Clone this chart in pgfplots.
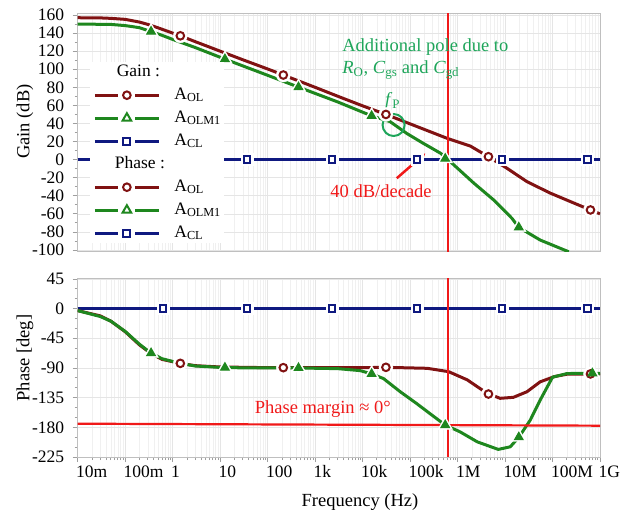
\documentclass[border=0pt]{standalone}
\usepackage{fontspec}
\setmainfont{Liberation Serif}
\usepackage{pgfplots}
\pgfplotsset{compat=1.18}
\usetikzlibrary{arrows.meta}
\definecolor{aol}{RGB}{128,18,18}
\definecolor{aolm}{RGB}{30,135,30}
\definecolor{acl}{RGB}{15,25,128}
\definecolor{ann}{RGB}{30,165,90}
\definecolor{pm}{RGB}{240,25,25}
\newcommand{\fs}{\fontsize{18.5}{22}\selectfont}
\newcommand{\ft}{\fontsize{17.5}{21}\selectfont}
\pgfplotsset{
  haloC/.style={only marks, mark=*, mark size=7pt, white, mark options={draw=white, fill=white}, forget plot},
  haloT/.style={only marks, mark=triangle*, mark size=8.5pt, white, mark options={draw=white, fill=white}, forget plot},
  haloS/.style={only marks, mark=square*, mark size=6pt, white, mark options={draw=white, fill=white}, forget plot},
}
\begin{document}
\begin{tikzpicture}
\useasboundingbox (0pt,0pt) rectangle (627pt,-514pt);
% ---------------- Gain ----------------
\begin{axis}[anchor=south west, at={(77.7pt,-251.7pt)}, height=238.4pt,
  xmode=log, xmin=1e-2, xmax=1e9, scale only axis, width=522.3pt,
  xtick={1e-2,1e-1,1,1e1,1e2,1e3,1e4,1e5,1e6,1e7,1e8,1e9},
  xmajorgrids, xminorgrids, ymajorgrids,
  major grid style={gray!20, line width=0.6pt},
  minor grid style={gray!12, line width=0.5pt},
  axis line style={gray!50, line width=0.8pt},
  tick align=outside, major tick length=5pt, minor tick length=3pt,
  tick style={gray!75, line width=0.8pt},
  ytick pos=left,
  ticklabel style={font=\ft, text=black},
  yticklabel style={xshift=-5pt},
  /pgf/number format/assume math mode=true,
  ymin=-101.9, ymax=161.9, ytick={-100,-80,...,160}, minor y tick num=1,
  xticklabels={}, xmajorticks=false, xminorticks=false,
  legend image code/.code={
    \draw[#1, mark=none] (0pt,0pt) -- (64pt,0pt);
    \fill[white] (25pt,-6pt) rectangle (39pt,6pt);
    \draw[#1, only marks] plot coordinates {(32pt,0pt)};},
  legend style={at={(axis description cs:0.0239,0.7957)}, anchor=north west,
    draw=none, fill=white, font=\ft, inner xsep=3pt, inner ysep=2pt, row sep=7pt, column sep=14pt,
    nodes={inner sep=0pt, text height=12pt, text depth=4pt}},
  legend cell align=left]
\addplot[acl, line width=3pt, no marks, forget plot] coordinates {(1e-2,0) (1e9,0)};
\addplot[haloS] coordinates {(0.63,0) (37,0) (2290,0) (1.41e5,0) (8.7e6,0) (5.5e8,0)};
\addplot[aol, line width=3pt, no marks, forget plot] coordinates {
(0.01,157) (0.03,156.8) (0.05,156.3) (0.1,155.2) (0.2,152.2) (0.3,149.6) (0.5,145.7)
(1,140) (1.45,137) (3,130.5) (10,120) (30,110.5) (100,100.3) (214,93.6) (1000,80)
(3400,69) (10000,59.5) (31000,50) (85000,41) (6.0e5,23.6) (1.86e6,15) (4.47e6,3.2)
(1.1e7,-9.6) (2.9e7,-24.4) (8.9e7,-37) (2.8e8,-48) (6.3e8,-55.7) (1e9,-60)};
\addplot[haloC] coordinates {(1.45,137) (214,93.6) (3.1e4,50) (4.47e6,3.2) (6.3e8,-55.7)};
\addplot[aolm, line width=3pt, no marks, forget plot] coordinates {
(0.01,150) (0.05,149.6) (0.1,148.3) (0.2,146) (0.35,141.7) (0.6,137.5) (1,133) (3,124)
(12.6,111.2) (100,93.3) (447,80.2) (3000,63.8) (1.55e4,48.4) (3.8e4,42) (8.5e4,29)
(1.9e5,18) (4.4e5,7) (6.3e5,0) (2.2e6,-26) (5.75e6,-44.6) (1.4e7,-65) (1.95e7,-75)
(5.5e7,-89) (2.2e8,-102)};
\addplot[haloT] coordinates {(0.351,141.7) (12.6,111.2) (447,80.2) (1.55e4,48.4) (5.5e5,1) (1.95e7,-75)};
\addplot[only marks, mark=*, mark size=3.8pt, mark options={draw=aol, fill=white, line width=2pt}, forget plot]
 coordinates {(1.45,137) (214,93.6) (3.1e4,50) (4.47e6,3.2) (6.3e8,-55.7)};
\addplot[only marks, mark=triangle*, mark size=5pt, mark options={draw=aolm, fill=aolm, line width=1pt}, forget plot]
 coordinates {(0.351,141.7) (12.6,111.2) (447,80.2) (1.55e4,48.4) (5.5e5,1) (1.95e7,-75)};
\addplot[only marks, mark=square*, mark size=3.2pt, mark options={draw=acl, fill=white, line width=2pt}, forget plot]
 coordinates {(0.63,0) (37,0) (2290,0) (1.41e5,0) (8.7e6,0) (5.5e8,0)};
\addplot[pm, line width=2.2pt, forget plot] coordinates {(6.3e5,-101.9) (6.3e5,161.9)};
% annotations
\node[anchor=west, align=left, inner sep=0pt, text=ann, font=\fs] at (axis cs:3715,111.3)
  {Additional pole due to\\\textit{R}\textsubscript{O}, \textit{C}\textsubscript{gs} and \textit{C}\textsubscript{gd}};
\node[inner sep=0pt, text=ann, font=\fs] at (axis cs:4.27e4,64.9) {\textit{f}\textsubscript{P}};
\draw[ann, line width=2pt] (axis cs:4.5e4,38.3) circle[radius=11pt];
\draw[pm, line width=2.5pt, -{Triangle[length=11pt,width=11pt]}] (axis cs:5.25e4,-20.6) -- (axis cs:2.1e5,7);
\node[inner sep=0pt, text=pm, font=\fs] at (axis cs:2.45e4,-35.2) {40 dB/decade};
% legend
\addlegendimage{empty legend}
\addlegendentry{\hspace{-73pt}Gain :}
\addlegendimage{aol, line width=3pt, mark=*, mark size=3.8pt, mark options={fill=white, line width=2pt}}
\addlegendentry{A\textsubscript{OL}}
\addlegendimage{aolm, line width=3pt, mark=triangle*, mark size=5pt, mark options={fill=white, line width=2pt}}
\addlegendentry{A\textsubscript{OLM1}}
\addlegendimage{acl, line width=3pt, mark=square*, mark size=3.6pt, mark options={fill=white, line width=2pt}}
\addlegendentry{A\textsubscript{CL}}
\addlegendimage{empty legend}
\addlegendentry{\hspace{-70pt}Phase :}
\addlegendimage{aol, line width=3pt, mark=*, mark size=3.8pt, mark options={fill=white, line width=2pt}}
\addlegendentry{A\textsubscript{OL}}
\addlegendimage{aolm, line width=3pt, mark=triangle*, mark size=5pt, mark options={fill=white, line width=2pt}}
\addlegendentry{A\textsubscript{OLM1}}
\addlegendimage{acl, line width=3pt, mark=square*, mark size=3.6pt, mark options={fill=white, line width=2pt}}
\addlegendentry{A\textsubscript{CL}}
\end{axis}
% ---------------- Phase ----------------
\begin{axis}[anchor=south west, at={(77.7pt,-457pt)}, height=178.7pt,
  xmode=log, xmin=1e-2, xmax=1e9, scale only axis, width=522.3pt,
  xtick={1e-2,1e-1,1,1e1,1e2,1e3,1e4,1e5,1e6,1e7,1e8,1e9},
  xmajorgrids, xminorgrids, ymajorgrids,
  major grid style={gray!20, line width=0.6pt},
  minor grid style={gray!12, line width=0.5pt},
  axis line style={gray!50, line width=0.8pt},
  tick align=outside, major tick length=5pt, minor tick length=3pt,
  tick style={gray!75, line width=0.8pt},
  ytick pos=left, xtick pos=bottom,
  ticklabel style={font=\ft, text=black},
  yticklabel style={xshift=-5pt},
  /pgf/number format/assume math mode=true,
  ymin=-225, ymax=46, ytick={-225,-180,-135,-90,-45,0,45}, minor y tick num=2,
  xticklabels={10m,100m,1,10,100,1k,10k,100k,1M,10M,100M,1G},
  xticklabel style={anchor=north west, xshift=-5pt}]
\addplot[acl, line width=3pt, no marks] coordinates {(1e-2,0) (1e9,0)};
\addplot[haloS] coordinates {(0.63,0) (37,0) (2290,0) (1.41e5,0) (8.7e6,0) (5.5e8,0)};
\addplot[aol, line width=3pt, no marks] coordinates {
(0.01,-3) (0.03,-11) (0.05,-19) (0.1,-35) (0.2,-55) (0.35,-68) (0.6,-77) (1.45,-83)
(3,-86.5) (10,-88.5) (100,-89.5) (1e4,-89.5) (3.1e4,-89) (2.3e5,-90.5) (6.5e5,-95.6)
(1.6e6,-108) (4.2e6,-128.5) (7.9e6,-136) (1.5e7,-134.5) (2.9e7,-126) (5.5e7,-111)
(1.1e8,-103) (2e8,-99.5) (1e9,-99)};
\addplot[aolm, line width=3pt, no marks] coordinates {
(0.01,-3) (0.03,-12) (0.05,-19) (0.1,-34.5) (0.2,-54) (0.35,-67.5) (0.6,-76) (1.45,-83)
(3,-87) (12.6,-89.5) (100,-90) (447,-90) (3000,-91) (8900,-94) (1.55e4,-99) (2.75e4,-106)
(6.2e4,-126) (1.38e5,-144) (2.6e5,-159) (5.5e5,-176.6) (1.12e6,-186.7) (2.6e6,-202)
(7.2e6,-213.5) (1.29e7,-209.5) (1.95e7,-195) (3.4e7,-169) (5.5e7,-138.6) (1e8,-104)
(2e8,-98.5) (4e8,-98) (1e9,-98)};
\addplot[haloT] coordinates {(0.351,-67.5) (12.6,-89.5) (447,-90) (1.55e4,-99) (5.5e5,-176.6) (1.95e7,-195) (6.9e8,-98)};
\addplot[haloC] coordinates {(1.45,-83) (214,-89.5) (3.1e4,-89) (4.47e6,-129.5) (6.3e8,-99)};
\addplot[pm, line width=2.2pt] coordinates {(1e-2,-174.5) (1e9,-177.5)};
\addplot[only marks, mark=*, mark size=3.8pt, mark options={draw=aol, fill=white, line width=2pt}]
 coordinates {(1.45,-83) (214,-89.5) (3.1e4,-89) (4.47e6,-129.5) (6.3e8,-99)};
\addplot[only marks, mark=triangle*, mark size=5pt, mark options={draw=aolm, fill=aolm, line width=1pt}]
 coordinates {(0.351,-67.5) (12.6,-89.5) (447,-90) (1.55e4,-99) (5.5e5,-176.6) (1.95e7,-195) (6.9e8,-98)};
\addplot[only marks, mark=square*, mark size=3.2pt, mark options={draw=acl, fill=white, line width=2pt}]
 coordinates {(0.63,0) (37,0) (2290,0) (1.41e5,0) (8.7e6,0) (5.5e8,0)};
\addplot[pm, line width=2.2pt] coordinates {(6.3e5,-225) (6.3e5,46)};
\node[inner sep=0pt, text=pm, font=\fs] at (axis cs:1.45e3,-153) {Phase margin ≈ 0°};
\end{axis}
% axis labels
\node[rotate=90, font=\fs, inner sep=0pt] at (25pt,-121.5pt) {Gain (dB)};
\node[rotate=90, font=\fs, inner sep=0pt] at (25pt,-358pt) {Phase [deg]};
\node[font=\fs, inner sep=0pt] at (360pt,-502pt) {Frequency (Hz)};
\end{tikzpicture}
\end{document}
